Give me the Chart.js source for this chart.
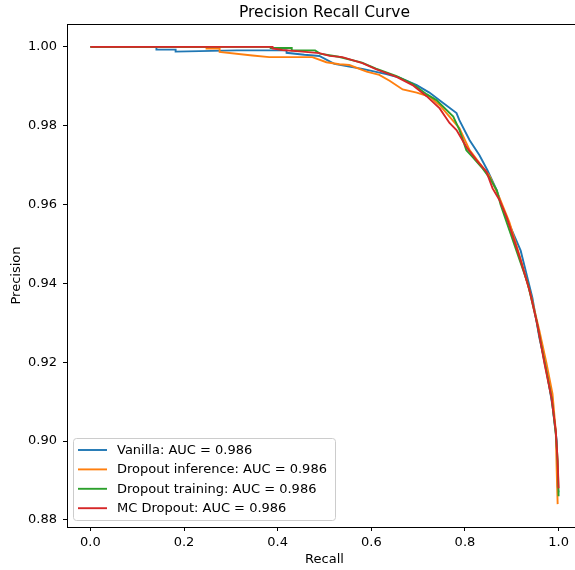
<!DOCTYPE html>
<html>
<head>
<meta charset="utf-8">
<script src="https://cdn.jsdelivr.net/npm/chart.js@4.4.1/dist/chart.umd.min.js"></script>
<style>
  html, body { margin: 0; padding: 0; overflow: hidden; background: #fff; }
  #wrap { width: 600px; height: 570px; }
</style>
</head>
<body>
<div id="wrap"><canvas id="prChart" width="600" height="570"></canvas></div>
<script>
// values
const vanillaRecall = [0, 0.141, 0.141, 0.182, 0.182, 0.312, 0.419, 0.419, 0.457, 0.489, 0.521, 0.553, 0.581, 0.632, 0.660, 0.697, 0.724, 0.752, 0.782, 0.788, 0.810, 0.831, 0.848, 0.868, 0.882, 0.919, 0.944, 0.959, 0.974, 0.987, 0.996, 0.998, 1.0];
const vanillaPrecision = [1.0, 1.0, 0.9993, 0.9993, 0.9988, 0.9991, 0.9991, 0.9985, 0.9980, 0.9977, 0.9957, 0.9950, 0.9944, 0.9931, 0.9922, 0.9903, 0.9884, 0.9859, 0.9832, 0.9814, 0.9763, 0.9725, 0.9687, 0.9636, 0.9585, 0.9483, 0.9364, 0.9262, 0.9183, 0.9089, 0.9000, 0.8885, 0.8870];

const inferRecall = [0, 0.248, 0.248, 0.276, 0.276, 0.346, 0.382, 0.474, 0.504, 0.532, 0.553, 0.590, 0.617, 0.639, 0.667, 0.697, 0.724, 0.746, 0.767, 0.788, 0.810, 0.831, 0.853, 0.874, 0.895, 0.921, 0.942, 0.959, 0.974, 0.987, 0.994, 0.996, 0.998];
const inferPrecision = [1.0, 1.0, 0.9996, 0.9996, 0.9987, 0.9978, 0.9974, 0.9974, 0.9961, 0.9956, 0.9954, 0.9937, 0.9929, 0.9914, 0.9892, 0.9884, 0.9874, 0.9852, 0.9823, 0.9794, 0.9738, 0.9705, 0.9672, 0.9616, 0.9555, 0.9453, 0.9364, 0.9280, 0.9198, 0.9120, 0.9025, 0.8924, 0.8840];

const trainRecall = [0, 0.385, 0.385, 0.43, 0.43, 0.48, 0.49, 0.53, 0.58, 0.61, 0.654, 0.688, 0.718, 0.739, 0.775, 0.788, 0.803, 0.816, 0.838, 0.853, 0.868, 0.876, 0.912, 0.934, 0.953, 0.970, 0.985, 0.994, 0.998, 1.0];
const trainPrecision = [1.0, 1.0, 0.9997, 0.9997, 0.9991, 0.9991, 0.9983, 0.9975, 0.9960, 0.9945, 0.9926, 0.9906, 0.9880, 0.9865, 0.9823, 0.9790, 0.9738, 0.9721, 0.9691, 0.9667, 0.9636, 0.9600, 0.9476, 0.9400, 0.9305, 0.9200, 0.9110, 0.9020, 0.8950, 0.8860];

const mcRecall = [0, 0.389, 0.389, 0.410, 0.453, 0.489, 0.511, 0.538, 0.581, 0.611, 0.654, 0.688, 0.718, 0.746, 0.767, 0.782, 0.803, 0.825, 0.846, 0.859, 0.874, 0.889, 0.917, 0.938, 0.955, 0.970, 0.985, 0.994, 0.998, 1.0];
const mcPrecision = [1.0, 1.0, 0.9996, 0.9992, 0.9988, 0.9984, 0.9977, 0.9974, 0.9959, 0.9943, 0.9924, 0.9903, 0.9875, 0.9844, 0.9807, 0.9789, 0.9746, 0.9712, 0.9683, 0.9641, 0.9611, 0.9568, 0.9466, 0.9382, 0.9293, 0.9196, 0.9109, 0.9025, 0.8949, 0.8880];

const seriesNames = ['Vanilla: AUC = 0.986', 'Dropout inference: AUC = 0.986', 'Dropout training: AUC = 0.986', 'MC Dropout: AUC = 0.986'];
const seriesColors = ['#1f77b4', '#ff7f0e', '#2ca02c', '#d62728'];
const xTicks = [0.0, 0.2, 0.4, 0.6, 0.8, 1.0];
const yTicks = [0.88, 0.90, 0.92, 0.94, 0.96, 0.98, 1.00];

const FONT = 'DejaVu Sans';

function toPoints(xs, ys) {
    return xs.map((x, i) => ({ x: x, y: ys[i] }));
}

const curves = [
    toPoints(vanillaRecall, vanillaPrecision),
    toPoints(inferRecall, inferPrecision),
    toPoints(trainRecall, trainPrecision),
    toPoints(mcRecall, mcPrecision)
];

// frame around the plot + legend box inside the axes (matplotlib look)
const framePlugin = {
    id: 'frame',
    afterDatasetsDraw(chart) {
        const { ctx, chartArea: a } = chart;
        ctx.save();
        ctx.strokeStyle = '#000';
        ctx.lineWidth = 1;
        ctx.strokeRect(Math.round(a.left) + 0.5, Math.round(a.top) + 0.5, Math.round(a.right - a.left), Math.round(a.bottom - a.top));

        // legend
        const bx = 73.5, by = 438.5, bw = 262, bh = 82, r = 3;
        ctx.beginPath();
        ctx.moveTo(bx + r, by);
        ctx.arcTo(bx + bw, by, bx + bw, by + bh, r);
        ctx.arcTo(bx + bw, by + bh, bx, by + bh, r);
        ctx.arcTo(bx, by + bh, bx, by, r);
        ctx.arcTo(bx, by, bx + bw, by, r);
        ctx.closePath();
        ctx.fillStyle = 'rgba(255,255,255,0.8)';
        ctx.fill();
        ctx.strokeStyle = '#cccccc';
        ctx.stroke();

        ctx.font = '13px "' + FONT + '"';
        ctx.textBaseline = 'middle';
        ctx.fillStyle = '#000';
        seriesNames.forEach((name, i) => {
            const y = 450 + i * 19.4;
            ctx.beginPath();
            ctx.moveTo(78, y);
            ctx.lineTo(107, y);
            ctx.strokeStyle = seriesColors[i];
            ctx.lineWidth = 1.9;
            ctx.stroke();
            ctx.fillText(name, 117, y + 0.5);
        });
        ctx.restore();
    }
};

const ctx = document.getElementById('prChart').getContext('2d');
const chart = new Chart(ctx, {
    type: 'scatter',
    data: {
        datasets: curves.map((pts, i) => ({
            label: seriesNames[i],
            data: pts,
            showLine: true,
            borderColor: seriesColors[i],
            backgroundColor: seriesColors[i],
            borderWidth: 1.9,
            pointRadius: 0,
            tension: 0,
            order: 3 - i
        }))
    },
    options: {
        responsive: false,
        animation: false,
        layout: { padding: { left: 0, right: 18, top: 0, bottom: 0 } },
        plugins: {
            legend: { display: false },
            tooltip: { enabled: false },
            title: {
                display: true,
                text: 'Precision Recall Curve',
                fullSize: false,
                color: '#000',
                font: { family: FONT, size: 15.5, weight: 'normal' },
                padding: { top: 3.5, bottom: 1.9 }
            }
        },
        scales: {
            x: {
                type: 'linear',
                min: -0.05,
                max: 1.05,
                afterFit(scale) { scale.height = 43; },
                afterBuildTicks(scale) { scale.ticks = xTicks.map(v => ({ value: v })); },
                grid: { drawOnChartArea: false, drawTicks: true, tickLength: 4, color: '#000' },
                border: { display: true, color: '#000', width: 1 },
                ticks: {
                    color: '#000',
                    padding: 4,
                    maxRotation: 0,
                    font: { family: FONT, size: 13 },
                    callback: v => Number(v).toFixed(1)
                },
                title: {
                    display: true,
                    text: 'Recall',
                    color: '#000',
                    font: { family: FONT, size: 13 },
                    padding: { top: 0, bottom: 3 }
                }
            },
            y: {
                type: 'linear',
                min: 0.8782,
                max: 1.0058,
                afterFit(scale) { scale.width = 67; },
                afterBuildTicks(scale) { scale.ticks = yTicks.map(v => ({ value: v })); },
                grid: { drawOnChartArea: false, drawTicks: true, tickLength: 4, color: '#000' },
                border: { display: true, color: '#000', width: 1 },
                ticks: {
                    color: '#000',
                    padding: 6,
                    font: { family: FONT, size: 13 },
                    callback: v => Number(v).toFixed(2)
                },
                title: {
                    display: true,
                    text: 'Precision',
                    color: '#000',
                    font: { family: FONT, size: 13 },
                    padding: { top: 9, bottom: 0 }
                }
            }
        }
    },
    plugins: [framePlugin]
});
</script>
</body>
</html>
